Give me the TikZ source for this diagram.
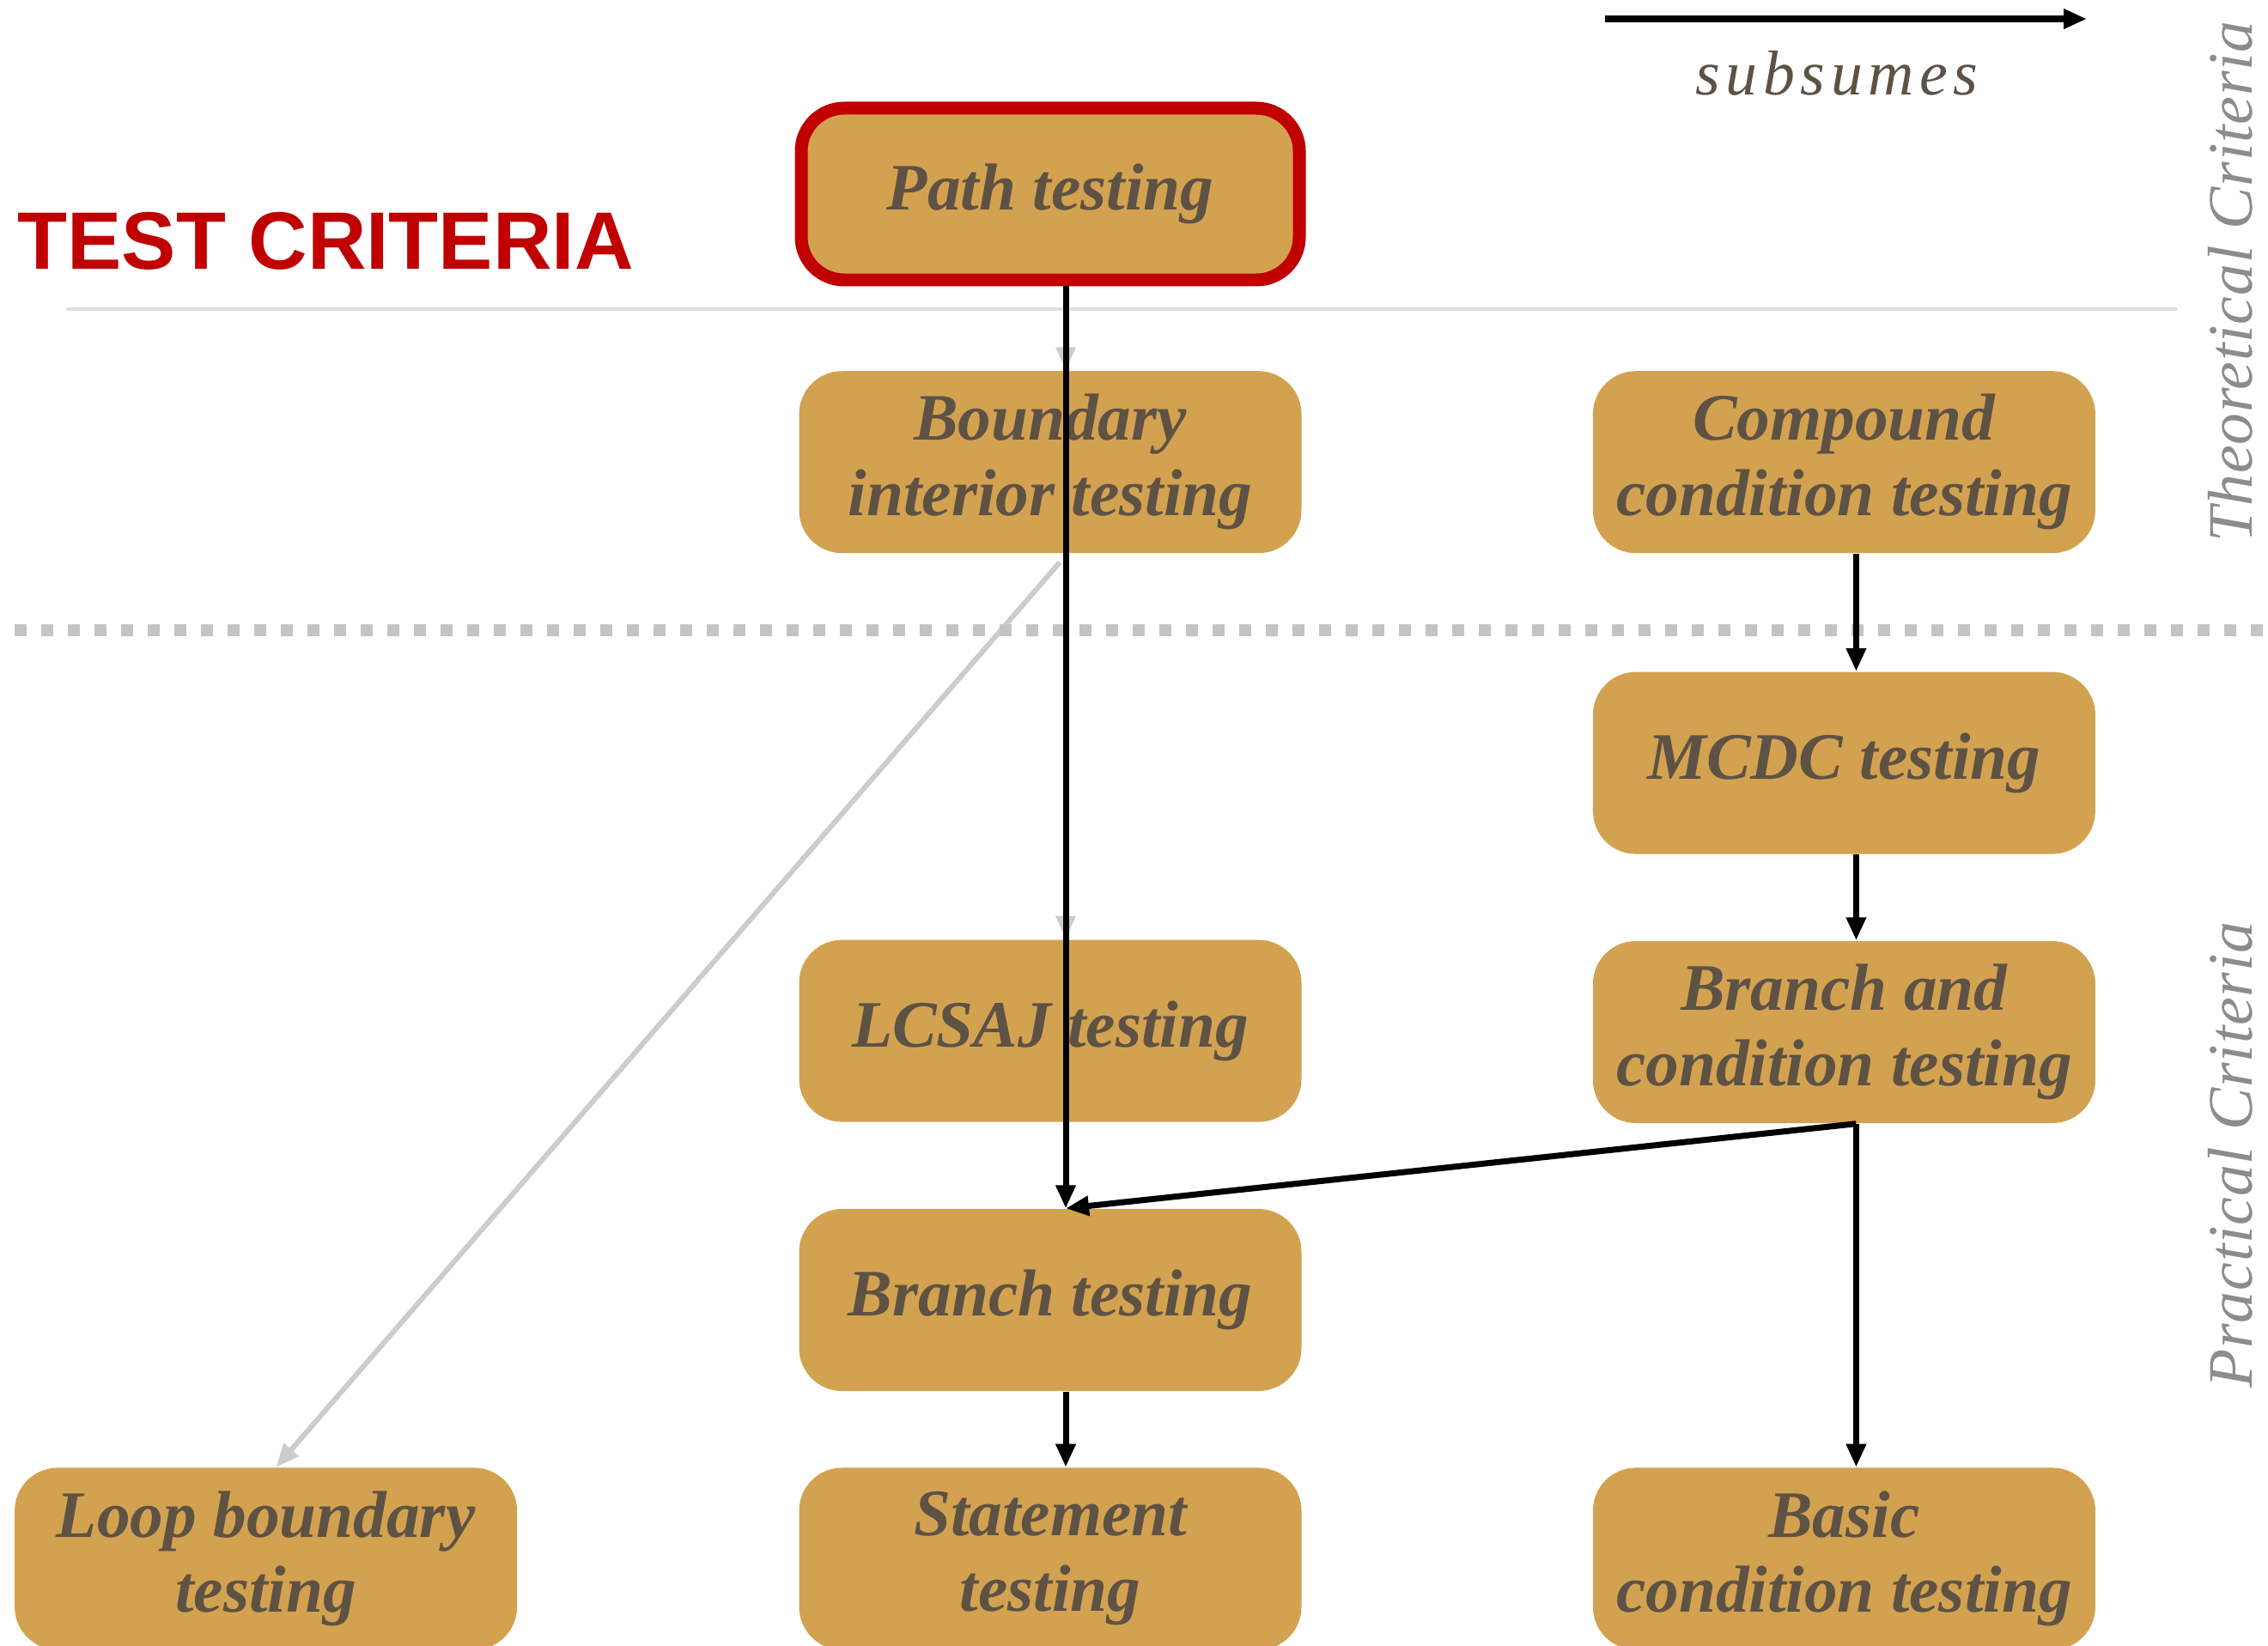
\documentclass[tikz,border=0pt]{standalone}
\usepackage{fontspec}
\setmainfont{Liberation Serif}
\newfontfamily\headfont{Liberation Sans}
\usepackage{tikz}
\usetikzlibrary{positioning, arrows.meta, backgrounds}
\definecolor{boxfill}{RGB}{211,162,80}
\definecolor{boxtext}{RGB}{94,82,69}
\definecolor{critred}{RGB}{192,0,0}
\definecolor{sidegrey}{RGB}{140,140,140}
\definecolor{faint}{RGB}{204,204,204}
\definecolor{rulegrey}{RGB}{224,224,224}
\definecolor{dotgrey}{RGB}{196,196,196}

\begin{document}
\begin{tikzpicture}[
		crit/.style={fill=boxfill, rounded corners=0.5cm, minimum width=5.85cm, minimum height=2.12cm, inner sep=0pt, align=center, text=boxtext, font=\bfseries\itshape\fontsize{22}{25}\selectfont},
		subs/.style={-{Triangle[length=0.27cm,width=0.22cm]}, line width=0.07cm, black},
		weak/.style={-{Triangle[length=0.27cm,width=0.22cm]}, line width=0.06cm, faint},
		side/.style={rotate=90, anchor=base west, inner sep=0pt, text=sidegrey, font=\itshape\fontsize{21}{21}\selectfont\addfontfeatures{LetterSpace=1}}]
			\useasboundingbox (0,0) rectangle (26.41,-19.17);

			\draw[rulegrey, line width=0.04cm] (0.77,-3.6) -- (25.35,-3.6);
			\draw[dotgrey, line width=0.14cm, dash pattern=on 0.14cm off 0.17cm] (0.17,-7.34) -- (26.41,-7.34);

			\node[anchor=base west, inner sep=0pt, text=critred, font=\headfont\bfseries\fontsize{27}{27}\selectfont] (title) at (0.2,-3.13) {TEST CRITERIA};

			\coordinate (k1) at (18.69,-0.22);
			\coordinate (k2) at (24.30,-0.22);
			\draw[subs, line width=0.08cm] (k1) -- (k2);
			\node[anchor=base, text=boxtext, font=\itshape\fontsize{21}{21}\selectfont\addfontfeatures{LetterSpace=9}] (sub) at (21.39,-1.11) {subsumes};

			\node[crit, draw=critred, line width=0.15cm, minimum width=5.8cm, minimum height=2.0cm] (P) at (12.23,-2.26) {Path testing};
			\node[crit, below=0.98cm of P]    (BI)  {Boundary\\interior testing};
			\node[crit, right=3.38cm of BI]   (CC)  {Compound\\condition testing};
			\node[crit, below=1.37cm of CC]   (MC)  {MCDC testing};
			\node[crit, below=1.0cm of MC]    (BC)  {Branch and\\condition testing};
			\node[crit, below=4.49cm of BI]   (L)   {LCSAJ testing};
			\node[crit, below=1.0cm of L]     (B)   {Branch testing};
			\node[crit, below=0.88cm of B]    (S)   {Statement\\testing};
			\node[crit, left=3.27cm of S]     (LB)  {Loop boundary\\testing};
			\node[crit, right=3.38cm of S]    (BaC) {Basic\\condition testing};

			\node[side] (theo) at (26.22,-6.32) {Theoretical Criteria};
			\node[side] (prac) at (26.22,-16.17) {Practical Criteria};

			\begin{pgfonlayer}{background}
			\draw[weak] ([xshift=0.18cm]P.south) -- ([xshift=0.18cm]BI.north);
			\draw[weak] ([xshift=0.18cm]BI.south) -- ([xshift=0.18cm]L.north);
			\draw[weak] ([xshift=0.18cm]L.south) -- ([xshift=0.18cm]B.north);
			\draw[weak] ([xshift=0.11cm,yshift=-0.1cm]BI.south) -- ([xshift=0.12cm]LB.north);
			\end{pgfonlayer}

			\draw[subs] ([xshift=0.18cm]P.south) -- ([xshift=0.18cm]B.north);
			\draw[subs] ([xshift=0.14cm]BC.south) -- ([xshift=0.18cm]B.north);
			\draw[subs] ([xshift=0.14cm]CC.south) -- ([xshift=0.14cm]MC.north);
			\draw[subs] ([xshift=0.14cm]MC.south) -- ([xshift=0.14cm]BC.north);
			\draw[subs] ([xshift=0.14cm]BC.south) -- ([xshift=0.14cm]BaC.north);
			\draw[subs] ([xshift=0.18cm]B.south) -- ([xshift=0.18cm]S.north);
		\end{tikzpicture}
\end{document}
